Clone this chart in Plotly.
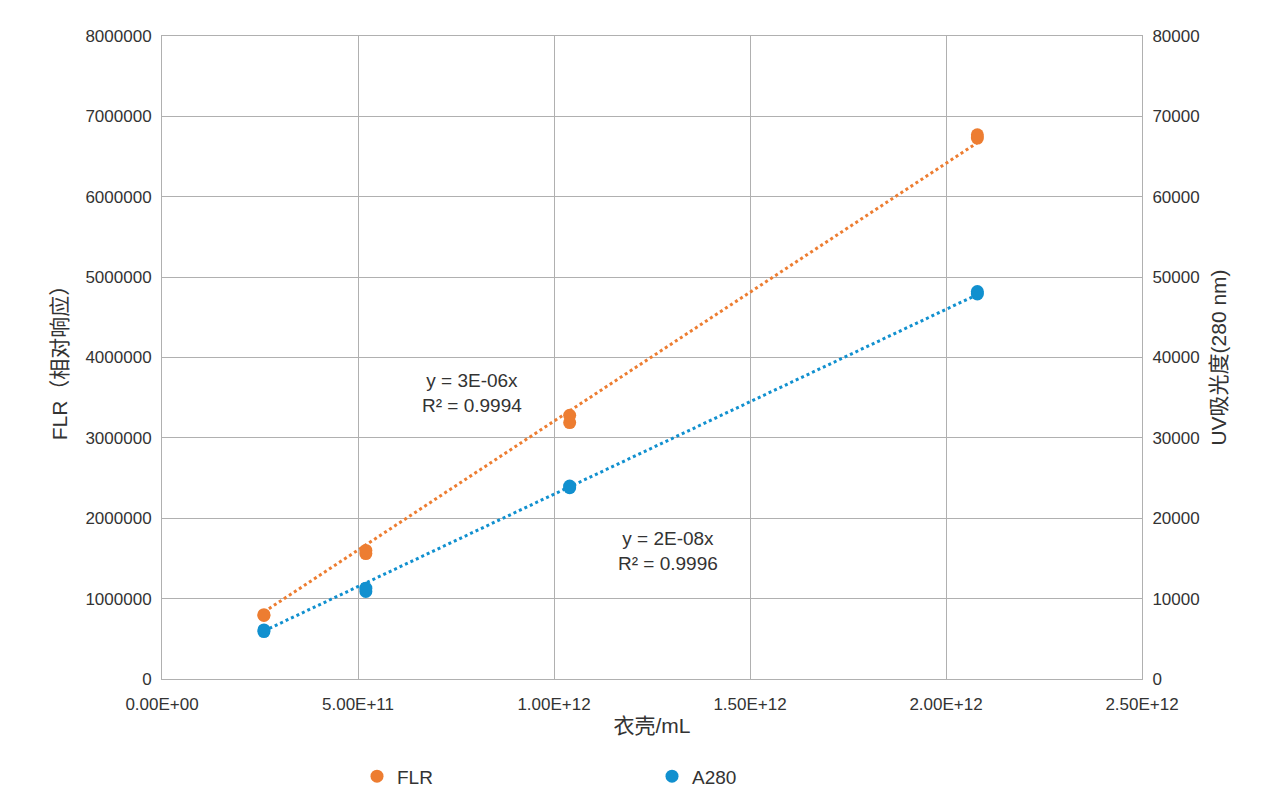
import numpy as np
import plotly.graph_objects as go

# data
capsids = [2.6e11, 2.6e11, 5.2e11, 5.2e11, 1.04e12, 1.04e12, 2.08e12, 2.08e12]
flr = [790000, 800000, 1560000, 1600000, 3190000, 3280000, 6730000, 6770000]
a280 = [5900, 6100, 10900, 11300, 23800, 24000, 47900, 48200]

x_ticks = [0, 5e11, 1e12, 1.5e12, 2e12, 2.5e12]
x_tick_labels = ['0.00E+00', '5.00E+11', '1.00E+12', '1.50E+12', '2.00E+12', '2.50E+12']

orange = '#ED7D31'
blue = '#1190CF'
font = 'Liberation Sans, Noto Sans CJK SC, sans-serif'

# linear fits through the origin, as in the spreadsheet trendlines
x = np.array(capsids)
k_flr = (x @ np.array(flr)) / (x @ x)
k_a280 = (x @ np.array(a280)) / (x @ x)
x_fit = [min(capsids), max(capsids)]

fig = go.Figure()
fig.add_trace(go.Scatter(x=x_fit, y=[k_flr * v for v in x_fit], mode='lines',
                         line=dict(color=orange, width=3, dash='dot'), showlegend=False))
fig.add_trace(go.Scatter(x=x_fit, y=[k_a280 * v for v in x_fit], mode='lines', yaxis='y2',
                         line=dict(color=blue, width=3, dash='dot'), showlegend=False))
fig.add_trace(go.Scatter(x=capsids, y=flr, mode='markers', name='FLR',
                         marker=dict(color=orange, size=13)))
fig.add_trace(go.Scatter(x=capsids, y=a280, mode='markers', name='A280', yaxis='y2',
                         marker=dict(color=blue, size=13)))

fig.add_annotation(x=7.9e11, y=3.56e6, text='y = 3E-06x<br>R² = 0.9994', showarrow=False,
                   font=dict(size=19, color='#333'))
fig.add_annotation(x=1.29e12, y=1.59e6, text='y = 2E-08x<br>R² = 0.9996', showarrow=False,
                   font=dict(size=19, color='#333'))

grid = '#B0B0B0'
fig.update_layout(
    width=1280, height=798,
    paper_bgcolor='white', plot_bgcolor='white',
    font=dict(family=font, size=17, color='#333'),
    margin=dict(l=154, r=146, t=28, b=126),
    xaxis=dict(range=[0, 2.5e12], tickvals=x_ticks, ticktext=x_tick_labels,
               ticks='outside', ticklen=10, tickcolor='white',
               showgrid=True, gridcolor=grid, linecolor=grid, mirror=True, zeroline=False,
               title=dict(text='衣壳/mL', font=dict(size=21), standoff=4)),
    yaxis=dict(range=[0, 8e6], dtick=1e6, tickformat='d', showgrid=True, gridcolor=grid,
               ticks='outside', ticklen=6, tickcolor='white',
               linecolor=grid, zeroline=False,
               title=dict(text='FLR（相对响应）', font=dict(size=21), standoff=12)),
    yaxis2=dict(range=[0, 80000], dtick=10000, tickformat='d', overlaying='y', side='right',
                ticks='outside', ticklen=6, tickcolor='white',
                showgrid=False, linecolor=grid, zeroline=False,
                title=dict(text='UV吸光度(280 nm)', font=dict(size=21), standoff=12)),
    legend=dict(orientation='h', x=0.5, xanchor='center', y=-0.12, yanchor='top',
                entrywidth=250, font=dict(size=19)),
)

fig.write_html('out.html')
